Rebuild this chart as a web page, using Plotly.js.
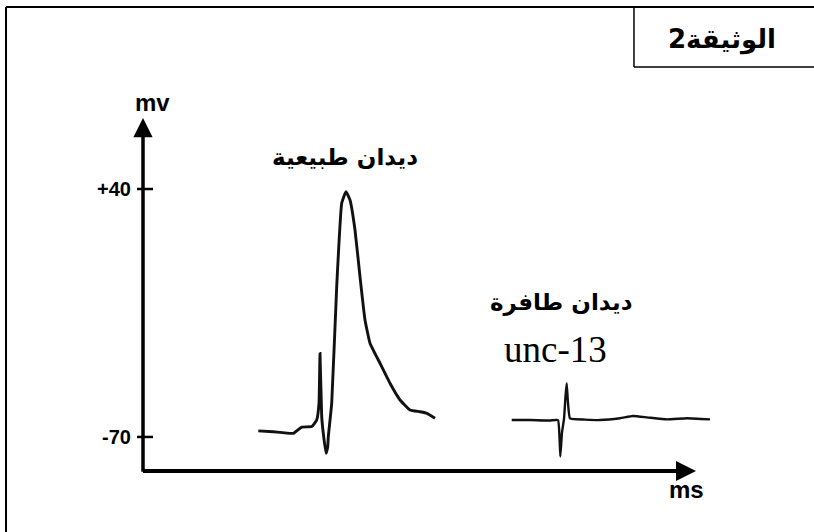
<!DOCTYPE html>
<html><head><meta charset="utf-8">
<script src="https://cdn.plot.ly/plotly-3.0.1.min.js"></script>
<style>html,body{margin:0;padding:0;background:#fff}</style>
</head><body>
<div id="chart" style="width:814px;height:532px"></div>
<script>
// Normal worm (ديدان طبيعية) recording, time in arbitrary ms units, potential in mV
var normalTime = [11.53,13.03,15.03,15.87,16.87,17.37,17.6,17.7,17.87,18.03,18.3,18.47,18.53,18.87,19.37,19.87,20.3,20.7,21.2,21.7,22.2,22.7,23.7,24.7,25.7,26.7,27.7,28.4,29.2];
var normalMv   = [-67.3,-67.7,-68.4,-65.6,-65.4,-62.5,-55,-32.9,-61,-68.4,-77.2,-74.3,-69.9,-55.1,-3.3,33.7,38.8,35.1,21.8,1.1,-18.1,-28.4,-37.3,-46.2,-53.6,-58.0,-58.8,-59.5,-61.7];
// Mutant worm (ديدان طافرة unc-13) recording
var mutantTime = [36.87,38.7,40.7,41.5,41.65,41.73,41.9,42.1,42.25,42.37,42.5,42.7,44.2,45.7,47.7,49.0,50.4,52.4,54.4,56.7];
var mutantMv   = [-62.5,-62.5,-62.7,-62.5,-70,-78.7,-68,-62,-52,-46.2,-55,-61.8,-62.3,-62.5,-61.7,-60.7,-61.3,-62.2,-61.7,-62.2];
var tickVals = [40, -70];
var tickText = ['+40', '-70'];
var xArrow = 55.3, xMax = 60, yMin = -85.1, yMax = 71.5;

var traces = [
  {x: normalTime, y: normalMv, mode: 'lines', line: {color: '#111', width: 2.9, shape: 'spline', smoothing: 0.35}, hoverinfo: 'skip'},
  {x: mutantTime, y: mutantMv, mode: 'lines', line: {color: '#111', width: 2.4, shape: 'spline', smoothing: 0.35}, hoverinfo: 'skip'}
];

var arabicFont = {family: 'DejaVu Sans, Arial, sans-serif', size: 23, color: '#000', weight: 'bold'};
var tickFont = {family: 'Arial, Liberation Sans, sans-serif', size: 20, color: '#000', weight: 'bold'};
var unitFont = {family: 'Arial, Liberation Sans, sans-serif', size: 24, color: '#000', weight: 'bold'};

var shapes = [
  // outer frame (left & top)
  {type: 'line', xref: 'paper', yref: 'paper', x0: -0.2283, x1: -0.2283, y0: -0.2, y1: 1.3144, line: {color: '#000', width: 2}},
  {type: 'line', xref: 'paper', yref: 'paper', x0: -0.2283, x1: 1.13, y0: 1.3144, y1: 1.3144, line: {color: '#000', width: 2}},
  // title box (left & bottom)
  {type: 'line', xref: 'paper', yref: 'paper', x0: 0.8183, x1: 0.8183, y0: 1.1445, y1: 1.3144, line: {color: '#000', width: 1.5}},
  {type: 'line', xref: 'paper', yref: 'paper', x0: 0.8183, x1: 1.13, y0: 1.1445, y1: 1.1445, line: {color: '#000', width: 1.5}}
];

var annotations = [
  // y axis with arrow
  {x: 0, y: yMax, ax: 0, ay: yMin - 1, xref: 'x', yref: 'y', axref: 'x', ayref: 'y', showarrow: true, arrowhead: 2, arrowsize: 1.1, arrowwidth: 3.5, arrowcolor: '#000', text: ''},
  // x axis with arrow
  {x: xArrow, y: yMin, ax: -0.15, ay: yMin, xref: 'x', yref: 'y', axref: 'x', ayref: 'y', showarrow: true, arrowhead: 2, arrowsize: 1.0, arrowwidth: 4, arrowcolor: '#000', text: ''},
  {x: 0.016, y: 1.045, xref: 'paper', yref: 'paper', xanchor: 'center', yanchor: 'middle', text: 'mv', showarrow: false, font: unitFont},
  {x: 0.905, y: -0.053, xref: 'paper', yref: 'paper', xanchor: 'center', yanchor: 'middle', text: 'ms', showarrow: false, font: unitFont},
  {x: 20.2, y: 54, xref: 'x', yref: 'y', xanchor: 'center', yanchor: 'middle', text: 'ديدان طبيعية', showarrow: false, font: arabicFont},
  {x: 41.8, y: -10.2, xref: 'x', yref: 'y', xanchor: 'center', yanchor: 'middle', text: 'ديدان طافرة', showarrow: false, font: arabicFont},
  {x: 41.2, y: -31, xref: 'x', yref: 'y', xanchor: 'center', yanchor: 'middle', text: 'unc-13', showarrow: false, font: {family: 'Liberation Serif, Times New Roman, serif', size: 37, color: '#000'}},
  {x: 0.965, y: 1.221, xref: 'paper', yref: 'paper', xanchor: 'center', yanchor: 'middle', text: 'الوثيقة2', showarrow: false, font: {family: 'DejaVu Sans, Arial, sans-serif', size: 26, color: '#000', weight: 'bold'}}
];
tickVals.forEach(function (v, i) {
  shapes.push({type: 'line', xref: 'paper', yref: 'y', x0: -0.01, x1: 0.0167, y0: v, y1: v, line: {color: '#000', width: 2.5}});
  annotations.push({x: -0.0167, y: v, xref: 'paper', yref: 'y', xanchor: 'right', yanchor: 'middle', text: tickText[i], showarrow: false, font: tickFont});
});

var layout = {
  width: 814, height: 532,
  margin: {l: 143, r: 71, t: 118, b: 61, pad: 0},
  paper_bgcolor: '#fff', plot_bgcolor: '#fff',
  showlegend: false,
  xaxis: {range: [0, xMax], showgrid: false, zeroline: false, showline: false, showticklabels: false, ticks: '', fixedrange: true},
  yaxis: {range: [yMin, yMax], showgrid: false, zeroline: false, showline: false, showticklabels: false, ticks: '', fixedrange: true},
  shapes: shapes,
  annotations: annotations
};

Plotly.newPlot('chart', traces, layout, {displayModeBar: false, staticPlot: true});
</script>
</body></html>
